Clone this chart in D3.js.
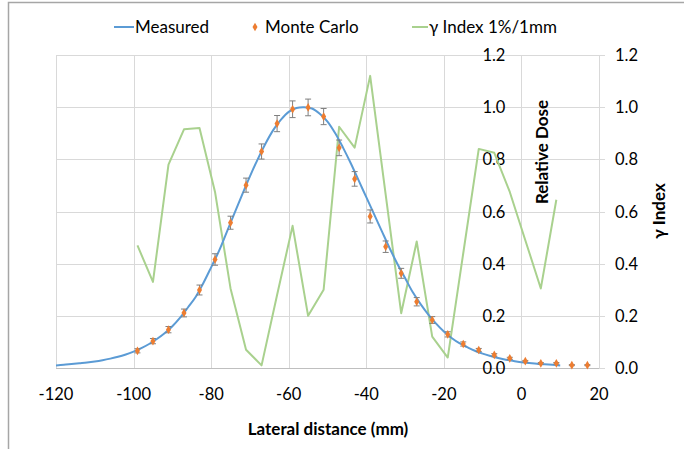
<!DOCTYPE html>
<meta charset="utf-8">
<script src="https://d3js.org/d3.v7.min.js"></script>
<style>
body { margin: 0; background: #fff; }
text { font-family: Lato, "Open Sans", sans-serif; fill: #000; }
.grid line { stroke: #d9d9d9; stroke-width: 1; }
.tick-label { font-size: 16.5px; }
.title { font-size: 17px; font-weight: bold; }
.legend { font-size: 17px; }
</style>
<body>
<div id="chart"></div>
</body>
<script>

// measured profile (relative dose)
const measX = [-120,-118,-116,-114,-112,-110,-108,-106,-104,-102,-100,-98,-96,-94,-92,-90,-88,-86,-84,-82,-80,-78,-76,-74,-72,-70,-68,-66,-64,-62,-60,-58,-56,-54,-52,-50,-48,-46,-44,-42,-40,-38,-36,-34,-32,-30,-28,-26,-24,-22,-20,-18,-16,-14,-12,-10,-8,-6,-4,-2,0,2,4,6,8,10];
const measY = [0.010,0.012,0.015,0.018,0.021,0.025,0.030,0.036,0.043,0.052,0.063,0.076,0.092,0.111,0.133,0.160,0.193,0.232,0.272,0.326,0.386,0.448,0.520,0.593,0.665,0.735,0.800,0.860,0.912,0.952,0.982,0.997,1.000,0.995,0.975,0.945,0.900,0.845,0.785,0.720,0.655,0.590,0.525,0.460,0.400,0.345,0.290,0.245,0.205,0.170,0.140,0.115,0.095,0.080,0.066,0.055,0.046,0.038,0.032,0.027,0.022,0.019,0.016,0.014,0.012,0.010];

// Monte Carlo points with error bars
const mcX = [-99,-95,-91,-87,-83,-79,-75,-71,-67,-63,-59,-55,-51,-47,-43,-39,-35,-31,-27,-23,-19,-15,-11,-7,-3,1,5,9,13,17];
const mcY = [0.066,0.103,0.147,0.211,0.299,0.416,0.557,0.701,0.830,0.937,0.992,0.999,0.964,0.844,0.725,0.581,0.465,0.363,0.254,0.184,0.129,0.092,0.069,0.050,0.037,0.026,0.018,0.018,0.011,0.011];
const mcErr = [0.008,0.010,0.012,0.015,0.019,0.022,0.025,0.027,0.029,0.031,0.032,0.032,0.031,0.030,0.028,0.025,0.022,0.019,0.016,0.013,0.010,0.008,0.006,0.005,0.004,0.003,0.003,0.003,0.002,0.002];

// gamma index 1%/1mm
const gamX = [-99,-95,-91,-87,-83,-79,-75,-71,-67,-63,-59,-55,-51,-47,-43,-39,-35,-31,-27,-23,-19,-15,-11,-7,-3,1,5,9];
const gamY = [0.47,0.33,0.78,0.915,0.92,0.675,0.305,0.07,0.01,0.28,0.545,0.20,0.30,0.925,0.845,1.12,0.665,0.21,0.485,0.12,0.04,0.44,0.84,0.825,0.675,0.49,0.305,0.645];

const xTicks = [-120,-100,-80,-60,-40,-20,0,20];
const yTicks = [0,0.2,0.4,0.6,0.8,1.0,1.2];

const W = 684, H = 449;
const x = d3.scaleLinear().domain([-120, 20]).range([56, 599]);
const y = d3.scaleLinear().domain([0, 1.2]).range([368, 55]);
const y2 = d3.scaleLinear().domain([0, 1.2]).range([368, 55]);

const svg = d3.select("#chart").append("svg")
  .attr("width", W).attr("height", H);

// outer frame
svg.append("path")
  .attr("d", `M8.5,${H} V2.5 H${W}`)
  .attr("fill", "none").attr("stroke", "#a6a6a6").attr("stroke-width", 1.5);

// gridlines
const grid = svg.append("g").attr("class", "grid");
grid.selectAll(".gx").data(xTicks).enter().append("line")
  .attr("x1", d => Math.round(x(d)) + 0.5).attr("x2", d => Math.round(x(d)) + 0.5)
  .attr("y1", y(1.2)).attr("y2", y(0));
grid.selectAll(".gy").data(yTicks).enter().append("line")
  .attr("x1", x(-120)).attr("x2", x(20) + 6)
  .attr("y1", d => Math.round(y(d)) + 0.5).attr("y2", d => Math.round(y(d)) + 0.5);

// bottom axis line
svg.append("line")
  .attr("x1", x(-120)).attr("x2", x(20))
  .attr("y1", Math.round(y(0)) + 0.5).attr("y2", Math.round(y(0)) + 0.5)
  .attr("stroke", "#bfbfbf");

// x tick labels
svg.selectAll(".xl").data(xTicks).enter().append("text")
  .attr("class", "tick-label")
  .attr("x", d => x(d)).attr("y", 400)
  .attr("text-anchor", "middle")
  .text(d => d);

// primary y labels (axis crosses at x = 0)
svg.selectAll(".yl").data(yTicks).enter().append("text")
  .attr("class", "tick-label")
  .attr("x", x(0) - 16).attr("y", d => y(d) + 6)
  .attr("text-anchor", "end")
  .text(d => d.toFixed(1));

// secondary y labels
svg.selectAll(".y2l").data(yTicks).enter().append("text")
  .attr("class", "tick-label")
  .attr("x", x(20) + 16).attr("y", d => y2(d) + 6)
  .attr("text-anchor", "start")
  .text(d => d.toFixed(1));

// axis titles
svg.append("text").attr("class", "title")
  .attr("x", 328).attr("y", 435).attr("text-anchor", "middle")
  .text("Lateral distance (mm)");
svg.append("text").attr("class", "title")
  .attr("transform", `translate(548,152) rotate(-90)`)
  .attr("text-anchor", "middle")
  .text("Relative Dose");
svg.append("text").attr("class", "title")
  .attr("transform", `translate(665,211) rotate(-90)`)
  .attr("text-anchor", "middle")
  .text("γ Index");

// gamma line
svg.append("path")
  .datum(gamX.map((d, i) => [d, gamY[i]]))
  .attr("fill", "none").attr("stroke", "#a9d18e").attr("stroke-width", 2)
  .attr("stroke-linejoin", "round")
  .attr("d", d3.line().x(d => x(d[0])).y(d => y2(d[1])));

// measured line
svg.append("path")
  .datum(measX.map((d, i) => [d, measY[i]]))
  .attr("fill", "none").attr("stroke", "#5b9bd5").attr("stroke-width", 2)
  .attr("d", d3.line().curve(d3.curveCatmullRom).x(d => x(d[0])).y(d => y(d[1])));

// MC error bars
const mc = mcX.map((d, i) => ({x: d, y: mcY[i], e: mcErr[i]}));
const eb = svg.append("g").attr("stroke", "#7f7f7f").attr("stroke-width", 1);
eb.selectAll(".ev").data(mc).enter().append("line")
  .attr("x1", d => x(d.x)).attr("x2", d => x(d.x))
  .attr("y1", d => y(d.y + d.e)).attr("y2", d => y(d.y - d.e));
eb.selectAll(".et").data(mc).enter().append("line")
  .attr("x1", d => x(d.x) - 3).attr("x2", d => x(d.x) + 3)
  .attr("y1", d => y(d.y + d.e)).attr("y2", d => y(d.y + d.e));
eb.selectAll(".eb").data(mc).enter().append("line")
  .attr("x1", d => x(d.x) - 3).attr("x2", d => x(d.x) + 3)
  .attr("y1", d => y(d.y - d.e)).attr("y2", d => y(d.y - d.e));

// MC markers
const diamond = d3.symbol().type(d3.symbolDiamond).size(22);
svg.selectAll(".mc").data(mc).enter().append("path")
  .attr("d", diamond)
  .attr("transform", d => `translate(${x(d.x)},${y(d.y)})`)
  .attr("fill", "#ed7d31");

// legend
const lg = svg.append("g").attr("class", "legend");
lg.append("line").attr("x1", 114).attr("x2", 134).attr("y1", 27).attr("y2", 27)
  .attr("stroke", "#5b9bd5").attr("stroke-width", 2);
lg.append("text").attr("x", 135).attr("y", 33).text("Measured");
lg.append("path").attr("d", diamond).attr("transform", "translate(255,27)").attr("fill", "#ed7d31");
lg.append("text").attr("x", 265).attr("y", 33).text("Monte Carlo");
lg.append("line").attr("x1", 412).attr("x2", 428).attr("y1", 27).attr("y2", 27)
  .attr("stroke", "#a9d18e").attr("stroke-width", 2);
lg.append("text").attr("x", 429).attr("y", 33).text("γ Index 1%/1mm");

</script>
